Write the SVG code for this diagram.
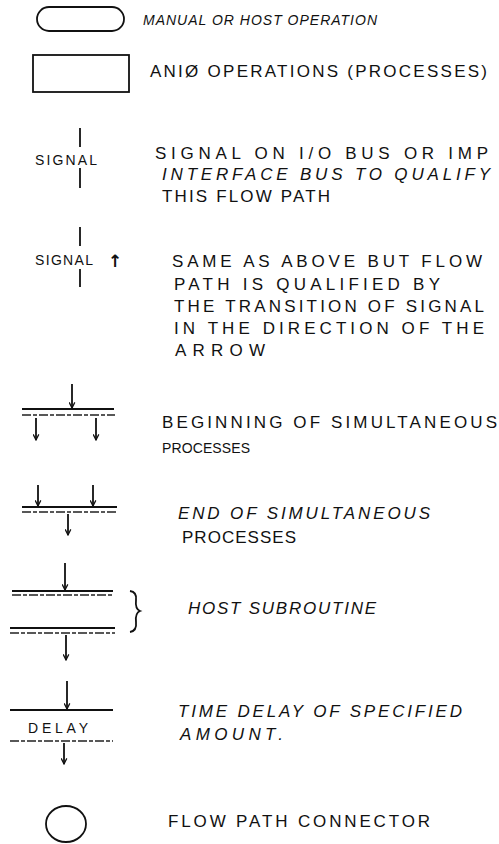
<svg xmlns="http://www.w3.org/2000/svg" width="499" height="844" viewBox="0 0 499 844">
<style>
.bg{fill:#fff}
.shape{fill:none;stroke:#111;stroke-width:1.8}
.ln{stroke:#111;stroke-width:1.8;fill:none}
.dash{stroke:#222;stroke-width:1.6;stroke-dasharray:9 2 4 2;fill:none}
.t{font-family:"Liberation Sans","DejaVu Sans",sans-serif;font-size:17px;fill:#111}
.i{font-style:italic}
.s{font-size:14px}
.arr{font-family:"DejaVu Sans",sans-serif;font-size:17px;font-weight:bold;fill:#111}
</style>
<defs>
<marker id="ah" viewBox="0 0 10 10" refX="9" refY="5" markerWidth="7" markerHeight="7" markerUnits="userSpaceOnUse" orient="auto">
<path d="M1,1 L9,5 L1,9" fill="none" stroke="#111" stroke-width="1.8"/>
</marker>
</defs>
<rect class="bg" x="0" y="0" width="499" height="844"/>

<g id="manual-op">
<rect class="shape" x="37" y="7" width="87" height="24" rx="12"/>
<text class="t i s" x="143" y="25" textLength="234" lengthAdjust="spacing">MANUAL OR HOST OPERATION</text>
</g>

<g id="anio-op">
<rect class="shape" x="33" y="55" width="96" height="37"/>
<text class="t" x="150" y="77" textLength="337" lengthAdjust="spacing">ANIØ OPERATIONS (PROCESSES)</text>
</g>

<g id="signal">
<text class="t s" x="35" y="165" textLength="62" lengthAdjust="spacing">SIGNAL</text>
<text class="t" x="155" y="159" textLength="333" lengthAdjust="spacing">SIGNAL ON I/O BUS OR IMP</text>
<text class="t i" x="162" y="180" textLength="328" lengthAdjust="spacing">INTERFACE BUS TO QUALIFY</text>
<text class="t" x="162" y="202" textLength="168" lengthAdjust="spacing">THIS FLOW PATH</text>
</g>

<g id="signal-transition">
<text class="t s" x="35" y="265" textLength="58" lengthAdjust="spacing">SIGNAL</text>
<text class="arr" x="108" y="267">↑</text>
<text class="t" x="172" y="267" textLength="310" lengthAdjust="spacing">SAME AS ABOVE BUT FLOW</text>
<text class="t" x="174" y="290" textLength="266" lengthAdjust="spacing">PATH IS QUALIFIED BY</text>
<text class="t" x="174" y="312" textLength="310" lengthAdjust="spacing">THE TRANSITION OF SIGNAL</text>
<text class="t" x="174" y="334" textLength="310" lengthAdjust="spacing">IN THE DIRECTION OF THE</text>
<text class="t" x="175" y="356" textLength="90" lengthAdjust="spacing">ARROW</text>
</g>

<g id="begin-simultaneous">
<line class="ln" x1="22" y1="409" x2="114" y2="409"/>
<line class="dash" x1="22" y1="415" x2="115" y2="415"/>
<text class="t" x="162" y="428" textLength="335" lengthAdjust="spacing">BEGINNING OF SIMULTANEOUS</text>
<text class="t s" x="162" y="453" textLength="88" lengthAdjust="spacing">PROCESSES</text>
</g>

<g id="end-simultaneous">
<line class="ln" x1="22" y1="507" x2="117" y2="507"/>
<line class="dash" x1="22" y1="512" x2="117" y2="512"/>
<text class="t i" x="178" y="519" textLength="252" lengthAdjust="spacing">END OF SIMULTANEOUS</text>
<text class="t" x="182" y="543" textLength="114" lengthAdjust="spacing">PROCESSES</text>
</g>

<g id="host-subroutine">
<line class="ln" x1="12" y1="591" x2="113" y2="591"/>
<line class="dash" x1="12" y1="595" x2="113" y2="595"/>
<line class="ln" x1="10" y1="628" x2="115" y2="628"/>
<line class="dash" x1="10" y1="633" x2="115" y2="633"/>
<path class="ln" d="M130,591 Q137,592 136,600 Q135,609 140,611 Q135,613 136,622 Q137,631 130,632"/>
<text class="t i" x="188" y="614" textLength="188" lengthAdjust="spacing">HOST SUBROUTINE</text>
</g>

<g id="time-delay">
<line class="ln" x1="10" y1="710" x2="113" y2="710"/>
<text class="t s" x="28" y="733" textLength="60" lengthAdjust="spacing">DELAY</text>
<line class="dash" x1="10" y1="741" x2="113" y2="741"/>
<text class="t i" x="178" y="717" textLength="284" lengthAdjust="spacing">TIME DELAY OF SPECIFIED</text>
<text class="t i" x="180" y="740" textLength="103" lengthAdjust="spacing">AMOUNT.</text>
</g>

<g id="connector">
<ellipse class="shape" cx="66" cy="824" rx="20" ry="18"/>
<text class="t" x="168" y="827" textLength="262" lengthAdjust="spacing">FLOW PATH CONNECTOR</text>
</g>

<g id="connectors">
<line class="ln" x1="80" y1="128" x2="80" y2="147"/>
<line class="ln" x1="80" y1="168" x2="80" y2="188"/>
<line class="ln" x1="80" y1="227" x2="80" y2="246"/>
<line class="ln" x1="80" y1="269" x2="80" y2="287"/>
<line class="ln" x1="72" y1="384" x2="72" y2="408" marker-end="url(#ah)"/>
<line class="ln" x1="36" y1="418" x2="36" y2="440" marker-end="url(#ah)"/>
<line class="ln" x1="96" y1="418" x2="96" y2="440" marker-end="url(#ah)"/>
<line class="ln" x1="38" y1="485" x2="38" y2="506" marker-end="url(#ah)"/>
<line class="ln" x1="93" y1="485" x2="93" y2="506" marker-end="url(#ah)"/>
<line class="ln" x1="68" y1="514" x2="68" y2="535" marker-end="url(#ah)"/>
<line class="ln" x1="65" y1="563" x2="65" y2="590" marker-end="url(#ah)"/>
<line class="ln" x1="66" y1="635" x2="66" y2="660" marker-end="url(#ah)"/>
<line class="ln" x1="67" y1="681" x2="67" y2="709" marker-end="url(#ah)"/>
<line class="ln" x1="64" y1="743" x2="64" y2="764" marker-end="url(#ah)"/>
</g>
</svg>
